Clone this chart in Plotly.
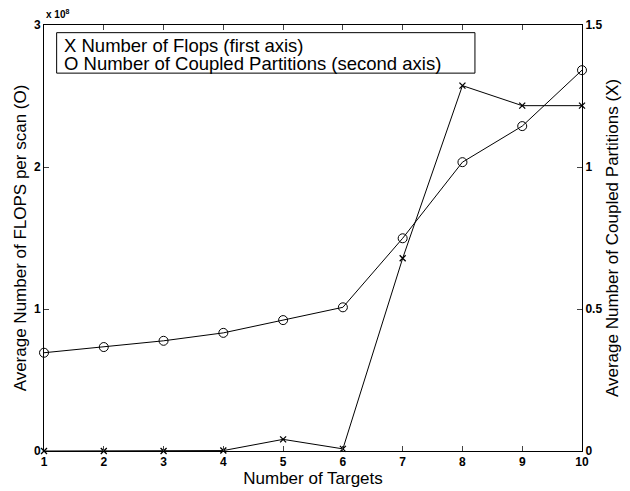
import plotly.graph_objects as go

targets = [1, 2, 3, 4, 5, 6, 7, 8, 9, 10]
flops = [0.0, 0.0, 0.0, 0.003e8, 0.082e8, 0.015e8, 1.357e8, 2.573e8, 2.432e8, 2.432e8]
partitions = [0.346, 0.366, 0.388, 0.416, 0.461, 0.506, 0.749, 1.017, 1.144, 1.341]

left_ticks = [0, 1e8, 2e8, 3e8]
left_ticktext = ["0", "1", "2", "3"]
right_ticks = [0, 0.5, 1, 1.5]
right_ticktext = ["0", "0.5", "1", "1.5"]

legend_lines = ["X Number of Flops (first axis)", "O Number of Coupled Partitions (second axis)"]

FONT = "Liberation Sans, Arial, sans-serif"

fig = go.Figure()
fig.add_trace(go.Scatter(
    x=targets, y=flops, mode="lines+markers", yaxis="y",
    line=dict(color="black", width=1),
    marker=dict(symbol="x-thin-open", size=6, color="black", line=dict(width=1.3, color="black")),
    name="Number of Flops (first axis)", showlegend=False, cliponaxis=False,
))
fig.add_trace(go.Scatter(
    x=targets, y=partitions, mode="lines+markers", yaxis="y2",
    line=dict(color="black", width=1),
    marker=dict(symbol="circle-open", size=9, color="black", line=dict(width=1, color="black")),
    name="Number of Coupled Partitions (second axis)", showlegend=False, cliponaxis=False,
))

tickfont = dict(family=FONT, size=12, color="black", weight="bold")
titlefont = dict(family=FONT, size=17, color="black")

fig.update_layout(
    width=630, height=491,
    margin=dict(l=44, r=48, t=25, b=40, autoexpand=False),
    paper_bgcolor="white", plot_bgcolor="white",
    xaxis=dict(
        range=[1, 10], tickvals=targets, ticks="inside", ticklen=5,
        showline=True, linecolor="black", linewidth=1, mirror="ticks",
        showgrid=False, zeroline=False, tickfont=tickfont, automargin=False,
        title=dict(text="Number of Targets", font=titlefont, standoff=2),
    ),
    yaxis=dict(
        range=[0, 3e8], tickvals=left_ticks, ticktext=left_ticktext,
        ticks="inside", ticklen=5, showline=True, linecolor="black", linewidth=1,
        showgrid=False, zeroline=False, tickfont=tickfont, automargin=False,
        title=dict(text="Average Number of FLOPS per scan (O)", font=titlefont, standoff=2),
    ),
    yaxis2=dict(
        range=[0, 1.5], tickvals=right_ticks, ticktext=right_ticktext,
        overlaying="y", side="right",
        ticks="inside", ticklen=5, showline=True, linecolor="black", linewidth=1,
        showgrid=False, zeroline=False, tickfont=tickfont, automargin=False,
        title=dict(text="Average Number of Coupled Partitions (X)", font=titlefont, standoff=4),
    ),
    shapes=[
        dict(type="rect", xref="paper", yref="paper", x0=0.0235, x1=0.801, y0=0.887, y1=0.982,
             line=dict(color="black", width=1), fillcolor="white", layer="above"),
    ],
    annotations=[
        dict(
            text=legend_lines[0], xref="paper", yref="paper", x=0.034, y=0.952,
            xanchor="left", yanchor="middle", showarrow=False,
            font=dict(family=FONT, size=18.5, color="black"),
        ),
        dict(
            text=legend_lines[1], xref="paper", yref="paper", x=0.034, y=0.909,
            xanchor="left", yanchor="middle", showarrow=False,
            font=dict(family=FONT, size=18.5, color="black"),
        ),
        dict(
            text="x 10<sup>8</sup>", xref="paper", yref="paper", x=0.0, y=1.0,
            xanchor="left", yanchor="bottom", showarrow=False, yshift=3,
            font=dict(family=FONT, size=10, color="black", weight="bold"),
        ),
    ],
)

fig.write_html("out.html")
